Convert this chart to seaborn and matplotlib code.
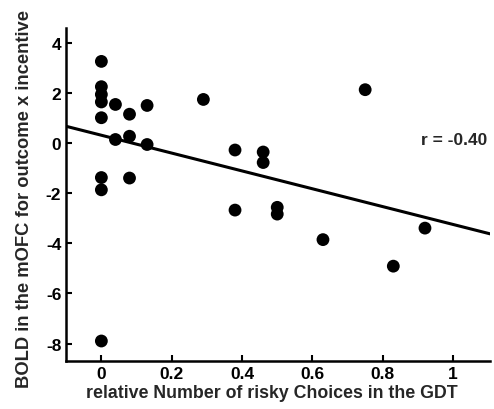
import numpy as np
import pandas as pd
import matplotlib
matplotlib.use('Agg')
import matplotlib.pyplot as plt
import seaborn as sns

# values
risky = [0, 0, 0, 0, 0, 0, 0, 0,
         0.04, 0.04, 0.08, 0.08, 0.08, 0.13, 0.13, 0.29,
         0.38, 0.38, 0.46, 0.46, 0.50, 0.50, 0.63, 0.75, 0.83, 0.92]
bold = [3.27, 2.26, 1.95, 1.65, 1.02, -1.37, -1.86, -7.9,
        1.55, 0.15, 1.16, 0.28, -1.39, 1.51, -0.05, 1.75,
        -0.27, -2.67, -0.35, -0.77, -2.56, -2.83, -3.85, 2.14, -4.91, -3.39]
df = pd.DataFrame({'risky': risky, 'bold': bold})

x_ticks = [0, 0.2, 0.4, 0.6, 0.8, 1]
x_labels = ['0', '0.2', '0.4', '0.6', '0.8', '1']
y_ticks = [-8, -6, -4, -2, 0, 2, 4]

sns.set_style('ticks')
plt.rcParams['font.family'] = ['Liberation Sans', 'DejaVu Sans']
plt.rcParams['font.weight'] = 'bold'
plt.rcParams['axes.unicode_minus'] = False

fig = plt.figure(figsize=(4.94, 4.10), dpi=100)
ax = fig.add_axes([0.134, 0.117, 0.858, 0.812])
# limits first so the fitted line runs across the whole axis
ax.set_xlim(-0.1, 1.105)
ax.set_ylim(-8.7, 4.6)

sns.regplot(x='risky', y='bold', data=df, ax=ax, ci=None, truncate=False,
            scatter_kws={'s': 85, 'color': 'black', 'edgecolor': 'none', 'alpha': 1},
            line_kws={'color': 'black', 'linewidth': 2.2})

ax.set_xlim(-0.1, 1.105)
ax.set_ylim(-8.7, 4.6)
ax.set_xticks(x_ticks)
ax.set_xticklabels(x_labels)
ax.set_yticks(y_ticks)
ax.tick_params(direction='in', length=4, width=1.5, labelsize=12.5, colors='black')
for lab in ax.get_xticklabels() + ax.get_yticklabels():
    lab.set_fontweight('bold')
sns.despine(ax=ax)
for s in ['left', 'bottom']:
    ax.spines[s].set_linewidth(1.8)
    ax.spines[s].set_color('black')

ax.set_xlabel('relative Number of risky Choices in the GDT', fontsize=12.8, fontweight='bold')
ax.set_ylabel('BOLD in the mOFC for outcome x incentive', fontsize=13.2, fontweight='bold')
ax.xaxis.set_label_coords(0.486, -0.069)
ax.yaxis.set_label_coords(-0.078, 0.49)
ax.text(1.004, 0.16, 'r = -0.40', fontsize=12.5, fontweight='bold', ha='center', va='center')

fig.savefig('out.png', dpi=100)
